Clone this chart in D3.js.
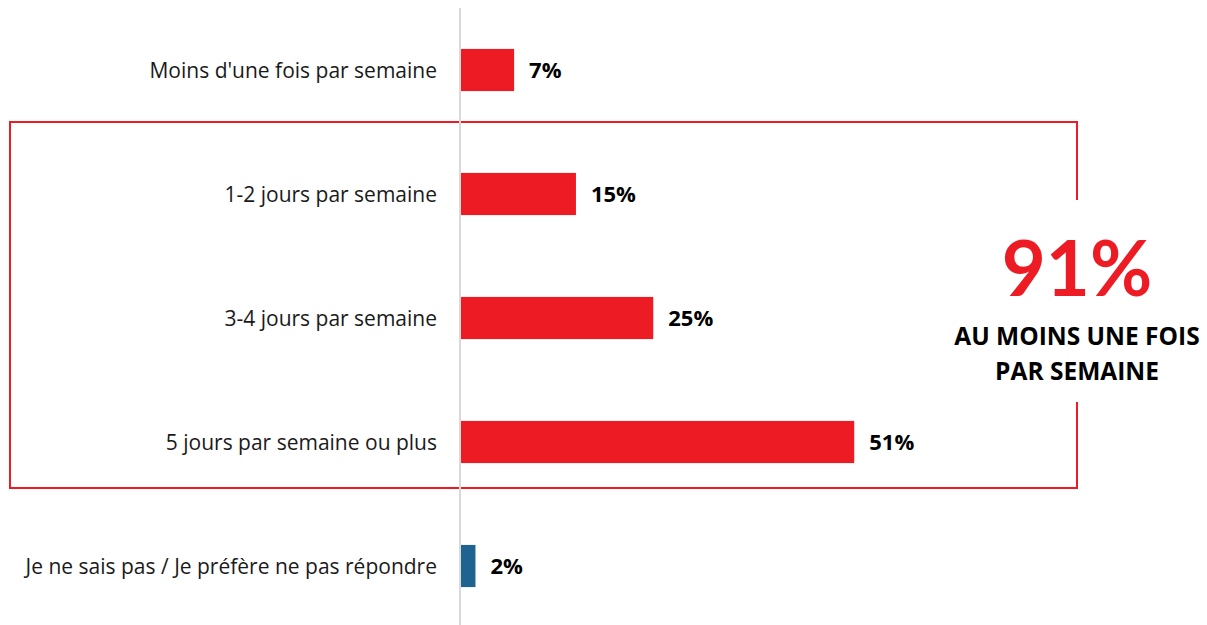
<!DOCTYPE html>
<html>
<head>
<meta charset="utf-8">
<script src="https://cdn.jsdelivr.net/npm/d3@7"></script>
<style>
  body { margin: 0; background: #fff; }
  svg { display: block; font-family: "Open Sans", Lato, sans-serif; }
</style>
</head>
<body>
<svg width="1207" height="625"></svg>
<script>
const categories = [
  "Moins d'une fois par semaine",
  "1-2 jours par semaine",
  "3-4 jours par semaine",
  "5 jours par semaine ou plus",
  "Je ne sais pas / Je préfère ne pas répondre"
];
const values = [7, 15, 25, 51, 2];
const barColors = ["#ed1c24", "#ed1c24", "#ed1c24", "#ed1c24", "#1f6391"];
const totalLabel = "91%";
const totalText = ["AU MOINS UNE FOIS", "PAR SEMAINE"];

const svg = d3.select("svg");

const y = d3.scaleBand()
  .domain(categories)
  .range([8, 628])
  .paddingInner(0.66)
  .paddingOuter(0.33);

const x = d3.scaleLinear()
  .domain([0, 100])
  .range([460, 1233]);

// box around the "at least once a week" group
const red = "#ed1c24";
const boxTop = y(categories[1]) - 51,
    boxBottom = y(categories[3]) + y.bandwidth() + 25,
    boxLeft = 10,
    boxRight = 1077;

svg.append("path")
  .attr("d", `M${boxRight},200 V${boxTop} H${boxLeft} V${boxBottom} H${boxRight} V402`)
  .attr("fill", "none")
  .attr("stroke", red)
  .attr("stroke-width", 2);

// axis line
svg.append("line")
  .attr("x1", x(0)).attr("x2", x(0))
  .attr("y1", 8).attr("y2", 625)
  .attr("stroke", "#d9d9d9")
  .attr("stroke-width", 2);

svg.selectAll("rect.bar")
  .data(values)
  .enter().append("rect")
  .attr("class", "bar")
  .attr("x", x(0) + 1)
  .attr("y", (d, i) => y(categories[i]))
  .attr("width", d => x(d) - x(0) - 1)
  .attr("height", y.bandwidth())
  .attr("fill", (d, i) => barColors[i]);

svg.selectAll("text.cat")
  .data(categories)
  .enter().append("text")
  .attr("class", "cat")
  .attr("x", 437)
  .attr("y", d => y(d) + y.bandwidth() / 2)
  .attr("dy", "0.36em")
  .attr("text-anchor", "end")
  .attr("font-size", 21)
  .attr("fill", "#1a1a1a")
  .text(d => d);

svg.selectAll("text.val")
  .data(values)
  .enter().append("text")
  .attr("class", "val")
  .attr("x", d => x(d) + 15)
  .attr("y", (d, i) => y(categories[i]) + y.bandwidth() / 2)
  .attr("dy", "0.38em")
  .attr("font-size", 22)
  .attr("font-weight", "bold")
  .attr("fill", "#000")
  .text(d => d + "%");

svg.append("text")
  .attr("x", boxRight)
  .attr("y", 296)
  .attr("text-anchor", "middle")
  .attr("font-family", "Lato, sans-serif")
  .attr("font-size", 76)
  .attr("font-weight", "bold")
  .attr("fill", red)
  .text(totalLabel);

svg.selectAll("text.sub")
  .data(totalText)
  .enter().append("text")
  .attr("class", "sub")
  .attr("x", boxRight)
  .attr("y", (d, i) => 345 + i * 35)
  .attr("text-anchor", "middle")
  .attr("font-size", 24.5)
  .attr("font-weight", "bold")
  .attr("fill", "#000")
  .text(d => d);
</script>
</body>
</html>
